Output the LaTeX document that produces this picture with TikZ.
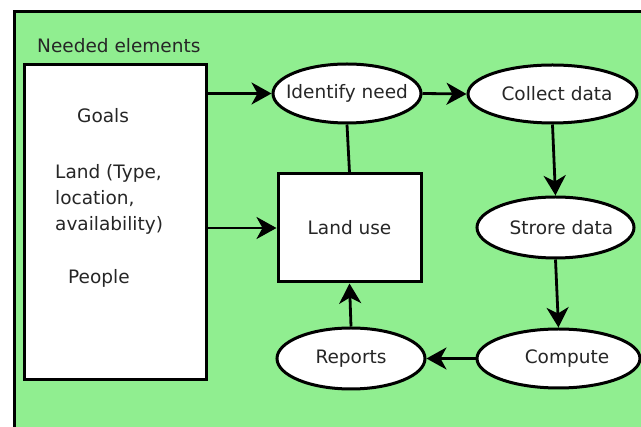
\documentclass[tikz,border=0pt]{standalone}
\usepackage{fontspec}
\setmainfont{DejaVu Sans}
\usetikzlibrary{shapes.geometric,arrows.meta}
\definecolor{bggreen}{HTML}{90EE90}
\begin{document}
\begin{tikzpicture}[x=1pt,y=-1pt,
  every node/.style={font=\fontsize{18.5}{22}\selectfont, text=black!85},
  oval/.style={ellipse, draw=black, line width=3pt, fill=white, inner sep=0pt},
  boxnode/.style={rectangle, draw=black, line width=3pt, fill=white, inner sep=0pt},
  txt/.style={anchor=base west, inner sep=0pt},
  conn/.style={line width=2.8pt, draw=black},
  arr/.style={conn, -{Stealth[length=20pt,width=22pt,inset=6pt]}}
]
\useasboundingbox (0,0) rectangle (641,427);
\clip (0,0) rectangle (641,427);
\fill[bggreen] (14.5,11.3) rectangle (700,500);
\draw[line width=3pt] (14.5,500) -- (14.5,11.3) -- (700,11.3);

\node[txt] (title) at (37,53) {Needed elements};

\node[boxnode, minimum width=182pt, minimum height=315pt] (needs) at (115,222.5) {};
\node[txt] (goals) at (77,123) {Goals};
\node[txt] (land1) at (55,179) {Land (Type,};
\node[txt] (land2) at (55,205) {location,};
\node[txt] (land3) at (55,231) {availability)};
\node[txt] (people) at (68,284) {People};

\node[oval, minimum width=148pt, minimum height=59pt] (ident) at (347,93.5) {\makebox[0pt]{Identify need}};
\node[oval, minimum width=169pt, minimum height=58pt] (collect) at (552.5,94) {\makebox[0pt]{\hspace*{9pt}Collect data}};
\node[oval, minimum width=157pt, minimum height=61pt] (store) at (555.5,227.5) {\makebox[0pt]{\hspace*{12pt}Strore data}};
\node[oval, minimum width=163pt, minimum height=59pt] (compute) at (558.5,358.5) {\makebox[0pt]{\hspace*{17pt}Compute}};
\node[oval, minimum width=148pt, minimum height=61pt] (reports) at (351,358.5) {\makebox[0pt]{Reports}};
\node[boxnode, minimum width=143pt, minimum height=108pt] (landuse) at (349.5,228) {\makebox[0pt]{Land use}};

\draw[arr] (needs.east |- ident.west) -- (ident.west);
\draw[arr] (needs.east |- landuse.west) -- (landuse.west);
\draw[arr] (ident.east) -- (collect.west);
\draw[arr] (collect.south) -- (store.north);
\draw[arr] (store.south) -- (compute.north);
\draw[arr] (compute.west) -- (reports.east);
\draw[arr] (reports.north) -- (landuse.south);
\draw[conn] (ident.south) -- (landuse.north);
\end{tikzpicture}
\end{document}
